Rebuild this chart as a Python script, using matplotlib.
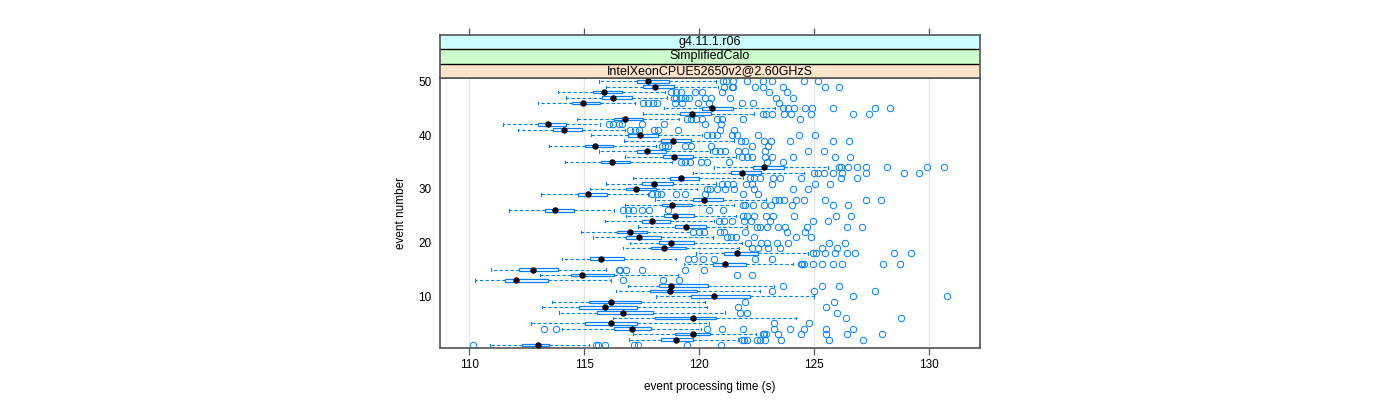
import matplotlib
matplotlib.use("Agg")
import matplotlib.pyplot as plt
import matplotlib.patches as patches

plt.rcParams['font.family'] = ['Liberation Sans', 'DejaVu Sans']

events = list(range(1, 51))

whislo = [110.90, 116.95, 117.13, 114.04, 112.66, 116.25, 113.89, 113.18, 113.60, 118.11,
          116.40, 116.92, 110.23, 113.08, 110.95, 119.35, 114.04, 119.88, 116.70, 116.99,
          115.38, 114.85, 117.34, 115.89, 116.83, 111.74, 116.76, 118.09, 113.12, 115.24,
          115.95, 117.10, 119.71, 120.66, 114.17, 116.77, 115.65, 113.47, 116.71, 115.30,
          112.13, 111.47, 114.70, 117.55, 118.48, 112.97, 114.22, 113.84, 115.96, 115.62]
q1 = [112.27, 118.33, 118.96, 116.31, 115.03, 118.06, 115.56, 114.75, 115.21, 119.64,
      117.87, 118.26, 111.55, 114.41, 112.15, 120.62, 115.23, 121.07, 117.91, 118.26,
      116.82, 116.41, 118.96, 117.49, 118.45, 113.29, 118.39, 119.75, 114.72, 116.82,
      117.52, 118.72, 121.37, 122.36, 115.74, 118.42, 117.28, 115.03, 118.35, 116.92,
      113.63, 113.00, 116.31, 119.17, 120.11, 114.47, 115.78, 115.39, 117.57, 117.30]
med = [112.97, 118.99, 119.73, 117.06, 116.17, 119.73, 116.67, 115.90, 116.17, 120.63,
       118.71, 118.78, 112.03, 114.91, 112.76, 121.11, 115.74, 121.64, 118.47, 118.78,
       117.36, 116.98, 119.44, 117.96, 118.93, 113.74, 118.83, 120.20, 115.17, 117.24,
       118.02, 119.22, 121.85, 122.81, 116.20, 118.92, 117.75, 115.48, 118.84, 117.43,
       114.11, 113.44, 116.76, 119.67, 120.57, 114.94, 116.26, 115.87, 118.09, 117.79]
q3 = [113.48, 119.73, 120.45, 117.90, 117.28, 120.71, 118.00, 117.28, 117.46, 122.21,
      119.91, 120.39, 113.44, 116.28, 113.84, 122.03, 116.73, 122.57, 119.43, 119.79,
      118.35, 117.73, 120.30, 118.75, 119.76, 114.53, 119.67, 121.05, 115.98, 118.12,
      118.86, 120.00, 122.70, 123.71, 117.00, 119.75, 118.54, 116.25, 119.66, 118.20,
      114.90, 114.22, 117.55, 120.50, 121.46, 115.69, 117.06, 116.65, 118.90, 118.69]
whishi = [115.21, 121.67, 122.48, 120.06, 120.44, 124.23, 121.13, 120.35, 120.27, 125.00,
          122.66, 123.24, 116.16, 119.07, 115.95, 124.10, 118.99, 124.72, 121.73, 121.86,
          120.60, 119.58, 122.10, 120.66, 121.61, 116.31, 121.53, 122.90, 117.78, 119.91,
          120.74, 121.91, 124.58, 125.59, 118.83, 121.61, 120.45, 118.12, 121.53, 120.11,
          116.76, 115.68, 119.13, 122.40, 123.30, 117.21, 118.60, 118.53, 120.83, 120.71]
fliers = [
    [110.17, 115.53, 115.61, 115.91, 117.15, 117.34, 119.47, 120.95],
    [121.88, 121.97, 122.09, 122.51, 122.63, 122.87, 123.56, 125.65, 127.13],
    [122.76, 122.81, 122.90, 123.44, 124.43, 125.51, 126.44, 127.94],
    [113.26, 113.77, 120.33, 120.99, 121.89, 123.26, 123.96, 124.55, 125.51, 126.70],
    [123.26, 124.77],
    [126.40, 128.77],
    [121.79, 122.10, 126.01],
    [121.70, 125.53],
    [122.01, 125.87],
    [126.71, 130.80],
    [123.18, 125.00, 127.67],
    [123.65, 125.36, 126.10],
    [116.68, 118.41, 119.11],
    [121.64, 122.28],
    [116.49, 116.56, 116.80, 117.51, 119.38, 120.20],
    [124.43, 124.49, 124.56, 124.94, 125.33, 125.83, 126.22, 127.99, 128.72],
    [119.50, 119.76, 120.18, 120.66, 122.45, 123.15],
    [124.94, 125.09, 125.48, 125.89, 126.44, 126.80, 128.48, 129.20],
    [122.30, 122.55, 122.99, 123.50, 125.33, 126.01],
    [122.12, 122.67, 122.96, 123.39, 123.87, 125.63, 126.34],
    [121.22, 121.38, 121.58, 122.37, 124.22, 124.88],
    [119.74, 120.00, 120.23, 120.90, 121.10, 122.00, 123.84, 124.61],
    [122.52, 122.64, 122.97, 123.42, 123.75, 124.67, 126.44, 127.09],
    [120.86, 121.08, 121.41, 121.97, 122.24, 123.08, 124.94, 125.60],
    [121.89, 122.09, 122.37, 122.91, 123.21, 124.11, 125.95, 126.59],
    [116.67, 116.88, 117.10, 117.52, 117.81, 118.66, 120.41, 121.04],
    [121.91, 122.00, 122.34, 122.81, 123.14, 124.05, 125.81, 126.47],
    [123.29, 123.47, 123.71, 124.23, 124.56, 125.48, 127.24, 127.90],
    [117.93, 118.15, 118.35, 119.01, 119.38, 120.27, 121.89, 122.54],
    [120.35, 120.45, 120.77, 121.11, 121.50, 122.37, 124.08, 124.74],
    [121.01, 121.23, 121.46, 122.03, 122.31, 123.18, 125.06, 125.69],
    [122.19, 122.39, 122.64, 123.21, 123.53, 124.43, 126.17, 126.85],
    [125.01, 125.15, 125.45, 125.83, 126.20, 127.25, 128.90, 129.56],
    [126.07, 126.17, 126.49, 126.85, 127.27, 128.18, 129.91, 130.65],
    [119.19, 119.38, 119.61, 120.08, 120.35, 121.28, 122.93, 123.66],
    [121.88, 122.09, 122.31, 122.88, 123.15, 124.08, 125.90, 126.55],
    [120.69, 120.90, 121.13, 121.70, 122.00, 122.88, 124.72, 125.42],
    [118.39, 118.53, 118.63, 119.40, 119.66, 120.50, 122.31, 122.99],
    [121.82, 122.00, 122.84, 123.14, 123.96, 125.81, 126.52],
    [120.35, 120.56, 120.78, 121.41, 121.64, 122.54, 124.36, 125.02],
    [116.97, 117.21, 117.37, 118.03, 118.21, 119.08, 120.90, 121.50],
    [116.08, 116.25, 116.49, 116.64, 117.49, 118.45, 120.26, 120.96],
    [119.47, 119.65, 119.88, 120.11, 120.77, 120.98, 121.89, 124.39],
    [122.76, 122.90, 123.18, 123.68, 124.01, 124.88, 126.70, 127.37],
    [123.66, 123.86, 124.14, 124.59, 124.92, 125.81, 127.64, 128.30],
    [117.57, 117.76, 117.99, 118.18, 118.96, 119.26, 119.96, 120.41, 121.85, 122.36, 123.48],
    [118.92, 119.01, 119.19, 119.37, 119.56, 120.27, 120.50, 121.35, 123.35, 124.10],
    [118.78, 118.99, 119.20, 119.82, 120.11, 120.98, 123.03, 123.81],
    [121.08, 121.41, 121.49, 122.41, 122.78, 123.63, 125.47, 126.08],
    [121.05, 121.17, 121.47, 122.10, 122.76, 123.18, 124.55, 125.16],
]

strip_labels = ["IntelXeonCPUE52650v2@2.60GHzS", "SimplifiedCalo", "g4.11.1.r06"]
strip_colors = ["#ffe5cc", "#ccffcc", "#ccffff"]
xticks = [110, 115, 120, 125, 130]
yticks = [10, 20, 30, 40, 50]

blue = "#0080ff"
frame = "#555555"

fig = plt.figure(figsize=(14, 4), dpi=100)
left, width = 440 / 1400, 540 / 1400
ax = fig.add_axes([left, 52 / 400, width, 270 / 400])

stats = []
for i in range(len(events)):
    stats.append(dict(whislo=whislo[i], q1=q1[i], med=med[i], q3=q3[i],
                      whishi=whishi[i], fliers=fliers[i]))

ax.bxp(stats, positions=events, widths=0.5, orientation='horizontal',
       patch_artist=True, manage_ticks=False,
       boxprops=dict(facecolor='none', edgecolor=blue, linewidth=0.9),
       whiskerprops=dict(color=blue, linewidth=0.8, linestyle=(0, (3, 2))),
       capprops=dict(color=blue, linewidth=0.8), capwidths=0.45,
       medianprops=dict(linewidth=0),
       flierprops=dict(marker='o', markerfacecolor='none', markeredgecolor=blue,
                       markersize=4.6, markeredgewidth=0.7, linestyle='none'))
ax.plot(med, events, 'o', color='black', markersize=3.6, zorder=5)

for xv in xticks:
    ax.axvline(xv, color='#e6e6e6', linewidth=0.9, zorder=0)

ax.set_xlim(108.72, 132.22)
ax.set_ylim(0.42, 50.63)
ax.set_xticks(xticks)
ax.set_yticks(yticks)
ax.tick_params(axis='x', direction='out', length=5, width=0.9, color=frame,
               labelsize=8.5, pad=3)
ax.tick_params(axis='y', length=0, labelsize=8.5, pad=6)
for s in ax.spines.values():
    s.set_color(frame)
    s.set_linewidth(1.2)
ax.set_xlabel("event processing time (s)", fontsize=8.5, labelpad=7)
ax.set_ylabel("event number", fontsize=8.5, labelpad=8)

sax = fig.add_axes([left, 322 / 400, width, 43 / 400], sharex=ax)
sax.set_ylim(0, 3)
for i in range(3):
    sax.add_patch(patches.Rectangle((0, i), 1, 1, transform=sax.get_yaxis_transform(),
                                    facecolor=strip_colors[i], edgecolor='none'))
    sax.text(0.5, i + 0.5, strip_labels[i], transform=sax.get_yaxis_transform(),
             ha='center', va='center', fontsize=9)
    if i > 0:
        sax.axhline(i, color='black', linewidth=1.0)
sax.set_yticks([])
sax.xaxis.set_ticks_position('top')
sax.tick_params(axis='x', direction='out', length=5, width=0.9, color=frame,
                labeltop=False, labelbottom=False)
for s in sax.spines.values():
    s.set_color(frame)
    s.set_linewidth(1.2)

fig.savefig("out.png", dpi=100)
